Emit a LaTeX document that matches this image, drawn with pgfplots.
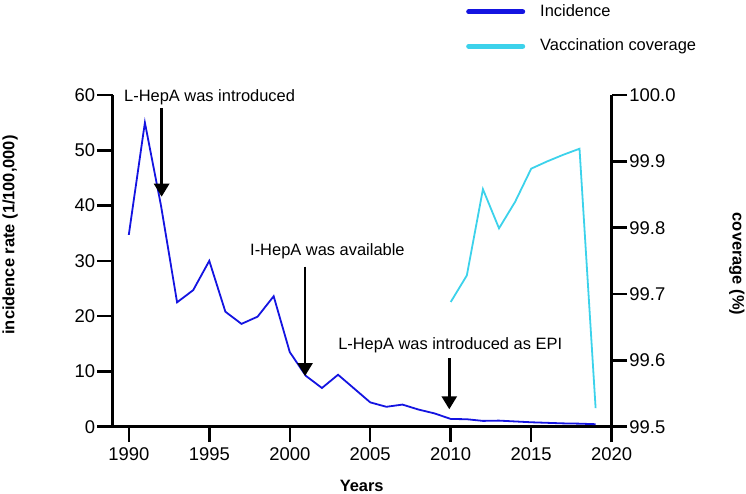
\documentclass[border=0pt]{standalone}
\usepackage{pgfplots}
\pgfplotsset{compat=1.18}
\usepackage{pgfplotstable}
\usepackage{fontspec}
\setmainfont{Liberation Sans}
\usetikzlibrary{arrows.meta}
\definecolor{inc}{RGB}{20,20,225}
\definecolor{cov}{RGB}{60,210,235}

\pgfplotstableread{
year inc
1990 34.7
1991 55.0
1992 40.0
1993 22.5
1994 24.7
1995 30.0
1996 20.8
1997 18.6
1998 19.9
1999 23.6
2000 13.5
2001 9.2
2002 7.0
2003 9.4
2004 6.9
2005 4.4
2006 3.6
2007 4.0
2008 3.1
2009 2.4
2010 1.4
2011 1.35
2012 1.05
2013 1.1
2014 0.95
2015 0.8
2016 0.7
2017 0.6
2018 0.55
2019 0.45
}\inctable

\pgfplotstableread{
year cov
2010 99.688
2011 99.728
2012 99.858
2013 99.799
2014 99.839
2015 99.889
2016 99.900
2017 99.910
2018 99.919
2019 99.528
}\covtable

\begin{document}
\fontsize{16.5}{19.8}\selectfont
\begin{tikzpicture}
\path[use as bounding box] (0,0) rectangle (746bp,494bp);
\pgfplotsset{
 common/.style={
  scale only axis, width=499bp, height=331.7bp,
  at={(112.7bp,67.3bp)}, anchor=south west,
  xmin=1989, xmax=2020, clip=false,
  axis line style={-, line width=2.5bp, black},
  /pgf/number format/assume math mode=true,
  tick label style={font=\fontsize{18.5}{22}\selectfont},
  label style={font=\fontsize{16.5}{19.8}\selectfont\bfseries},
 },
 myticks/.style={
  tick align=outside,
  major tick length=15.5bp,
  tick style={line width=2.5bp, black},
 }
}
\begin{axis}[common,
  axis x line*=bottom, axis y line*=left, myticks,
  ymin=0, ymax=60, ytick={0,10,20,30,40,50,60},
  xtick={1990,1995,2000,2005,2010,2015,2020},
  x tick label style={/pgf/number format/1000 sep={}, inner sep=5bp},
  y tick label style={inner sep=2bp},
  xlabel={Years},
  xlabel style={at={(rel axis cs:0.499,-0.179)}, anchor=center},
  ylabel={incidence rate (1/100,000)},
  ylabel style={at={(rel axis cs:-0.2058,0.578)}, anchor=center},
]
\addplot[inc, line width=1.8bp] table[x=year, y=inc] {\inctable};
\node[anchor=west, inner sep=0pt] at (axis cs:1989.7,59.6) {L-HepA was introduced};
\draw[line width=2.7bp, -{Triangle[width=15bp,length=13bp]}] (axis cs:1992.04,57.65) -- (axis cs:1992.04,41.6);
\node[anchor=west, inner sep=0pt] at (axis cs:1997.53,31.66) {I-HepA was available};
\draw[line width=2.7bp, -{Triangle[width=15bp,length=13bp]}] (axis cs:2000.95,28.94) -- (axis cs:2000.95,9.17);
\node[anchor=west, inner sep=0pt] at (axis cs:2003.0,14.78) {L-HepA was introduced as EPI};
\draw[line width=2.7bp, -{Triangle[width=15bp,length=13bp]}] (axis cs:2009.91,12.37) -- (axis cs:2009.91,3.15);
\end{axis}
\begin{axis}[common,
  axis x line=none, axis y line*=right, myticks,
  ymin=99.5, ymax=100, ytick={99.5,99.6,99.7,99.8,99.9,100},
  y tick label style={/pgf/number format/.cd, fixed, fixed zerofill, precision=1, /tikz/inner sep=2bp},
  ylabel={coverage (\%)},
  ylabel style={at={(rel axis cs:1.251,0.4905)}, anchor=center, rotate=180},
  legend image code/.code={\draw[#1, line width=5bp, line cap=round] (0bp,0bp) -- (54bp,0bp);},
  legend cell align=left,
  legend style={at={(rel axis cs:0.708,1.276)}, anchor=north west, draw=none, fill=none,
    inner sep=0pt, column sep=14bp, row sep=18bp,
    nodes={inner sep=1bp}, font=\fontsize{16.5}{19.8}\selectfont},
]
\addplot[cov, line width=1.8bp, forget plot] table[x=year, y=cov] {\covtable};
\addlegendimage{inc}
\addlegendentry{Incidence}
\addlegendimage{cov}
\addlegendentry{Vaccination coverage}
\end{axis}
\end{tikzpicture}
\end{document}
